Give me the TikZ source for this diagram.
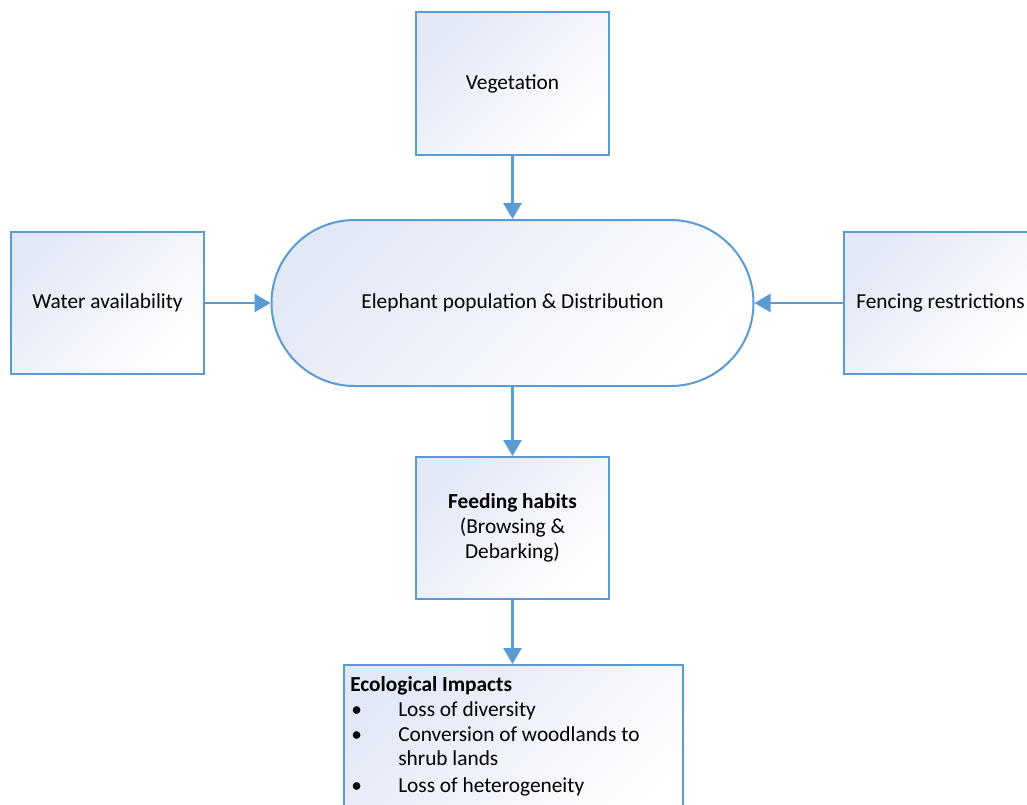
\documentclass[tikz,border=0pt]{standalone}
\usepackage{fontspec}
\setmainfont{Carlito}
\usetikzlibrary{arrows.meta,shapes.misc}
\definecolor{edge}{RGB}{91,155,213}
\definecolor{shadetop}{RGB}{226,232,246}
\tikzset{
  box/.style={draw=edge, line width=1.5pt, rectangle, top color=shadetop, bottom color=white, shading angle=45, inner sep=0pt, align=center, font=\fontsize{16}{18.5}\selectfont},
  conn/.style={draw=edge, line width=2.2pt, -{Triangle[length=12pt,width=13.5pt]}},
  txt/.style={inner sep=0pt, anchor=base west, font=\fontsize{16}{18.5}\selectfont}
}
\begin{document}
\begin{tikzpicture}[x=0.75pt,y=-0.75pt]
\useasboundingbox (0,0) rectangle (1027,804);
\clip (0,0) rectangle (1027,804);
\node[box, minimum width=193*0.75pt, minimum height=143*0.75pt] (veg) at (512.5,83.5) {Vegetation};
\node[box, rounded rectangle, minimum width=482*0.75pt, minimum height=166*0.75pt] (elep) at (512.5,303) {Elephant population \& Distribution};
\node[box, minimum width=193*0.75pt, minimum height=142*0.75pt] (water) at (107.5,303) {Water availability};
\node[box, minimum width=193*0.75pt, minimum height=142*0.75pt] (fence) at (940.5,303) {Fencing restrictions};
\node[box, minimum width=193*0.75pt, minimum height=142*0.75pt] (feed) at (512.5,528) {\textbf{Feeding habits}\\(Browsing \&\\Debarking)};
\node[box, anchor=north west, minimum width=339*0.75pt, minimum height=180*0.75pt] (eco) at (343,664) {};
\node[txt] (t0) at (350,691) {\textbf{Ecological Impacts}};
\node[txt] (b1) at (351,716) {\textbullet};
\node[txt] (t1) at (398,716) {Loss of diversity};
\node[txt] (b2) at (351,741) {\textbullet};
\node[txt] (t2) at (398,741) {Conversion of woodlands to};
\node[txt] (t2b) at (398,765) {shrub lands};
\node[txt] (b3) at (351,792) {\textbullet};
\node[txt] (t3) at (398,792) {Loss of heterogeneity};
\draw[conn] (veg.south) -- (elep.north);
\draw[conn] (water.east) -- (elep.west);
\draw[conn] (fence.west) -- (elep.east);
\draw[conn] (elep.south) -- (feed.north);
\draw[conn] (feed.south) -- (eco.north -| feed.south);
\end{tikzpicture}
\end{document}
